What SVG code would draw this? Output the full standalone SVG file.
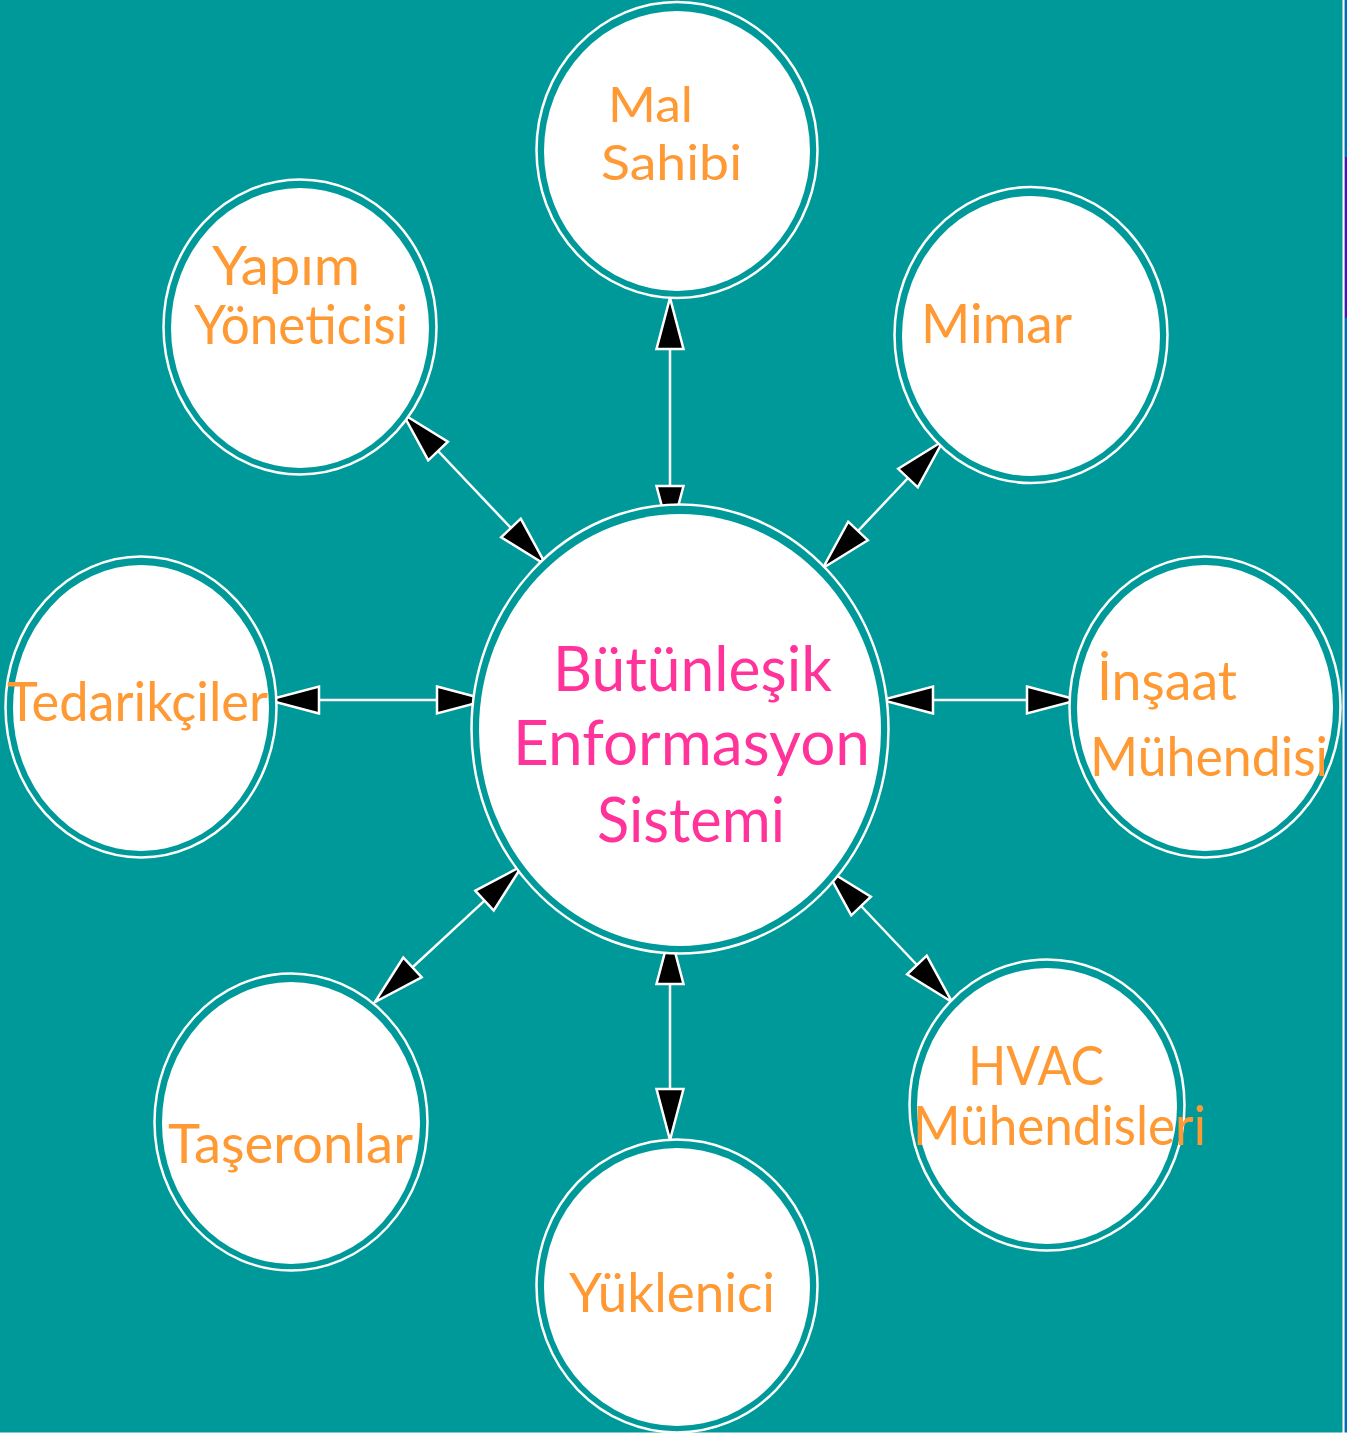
<svg xmlns="http://www.w3.org/2000/svg" width="1347" height="1435" viewBox="0 0 1347 1435">
<style>
.ring{fill:#009999;stroke:#ffffff;stroke-width:2.5}
.fill{fill:#ffffff}
.lbl{font-family:Lato,"Open Sans",sans-serif;font-size:54px;fill:#FF9933}
.sm{font-size:48px}
.ctr{font-family:Lato,"Open Sans",sans-serif;font-size:62px;fill:#FF3399}
.con{stroke:#ffffff;stroke-width:2.5;fill:none;marker-start:url(#ah);marker-end:url(#ah)}
</style>
<defs>
<marker id="ah" viewBox="0 0 54 30" refX="52" refY="15" markerWidth="54" markerHeight="30" markerUnits="userSpaceOnUse" orient="auto-start-reverse" overflow="visible">
<path d="M1,1.5 L52,15 L1,28.5 Z" fill="#000000" stroke="#ffffff" stroke-width="2.5" stroke-linejoin="miter"/>
</marker>
</defs>
<rect x="0" y="0" width="1347" height="1435" fill="#009999"/>
<rect x="1342.5" y="0" width="2" height="1435" fill="#ffffff"/>
<rect x="1345" y="0" width="2" height="1435" fill="#0066cc"/>
<rect x="1345" y="157" width="2" height="161" fill="#6600cc"/>
<rect x="0" y="1432.5" width="1347" height="2.5" fill="#ffffff"/>

<g id="connectors">
<line class="con" x1="670" y1="298" x2="670" y2="537"/>
<line class="con" x1="403" y1="414" x2="546" y2="565"/>
<line class="con" x1="943" y1="441" x2="823" y2="568"/>
<line class="con" x1="268" y1="700" x2="488" y2="700"/>
<line class="con" x1="882" y1="700" x2="1078" y2="700"/>
<line class="con" x1="522" y1="866" x2="375" y2="1002"/>
<line class="con" x1="670" y1="933" x2="670" y2="1140"/>
<line class="con" x1="826" y1="869" x2="952" y2="1002"/>
</g>

<g id="center">
<ellipse class="ring" cx="680" cy="729" rx="208.5" ry="224.5"/>
<ellipse class="fill" cx="680" cy="730" rx="201" ry="216"/>
<text class="ctr" x="553" y="691" textLength="279" lengthAdjust="spacingAndGlyphs">Bütünleşik</text>
<text class="ctr" x="513" y="765" textLength="357" lengthAdjust="spacingAndGlyphs">Enformasyon</text>
<text class="ctr" x="597" y="842" textLength="188" lengthAdjust="spacingAndGlyphs">Sistemi</text>
</g>

<g id="mal-sahibi">
<ellipse class="ring" cx="677" cy="150" rx="140.5" ry="148"/>
<ellipse class="fill" cx="677" cy="151" rx="133" ry="140"/>
<text class="lbl sm" x="608" y="122" textLength="85" lengthAdjust="spacingAndGlyphs">Mal</text>
<text class="lbl sm" x="601" y="180" textLength="141" lengthAdjust="spacingAndGlyphs">Sahibi</text>
</g>

<g id="mimar">
<ellipse class="ring" cx="1031" cy="335" rx="136.5" ry="148"/>
<ellipse class="fill" cx="1031" cy="336" rx="129" ry="140"/>
<text class="lbl" x="921" y="343" textLength="151" lengthAdjust="spacingAndGlyphs">Mimar</text>
</g>

<g id="yapim-yoneticisi">
<ellipse class="ring" cx="300" cy="327" rx="136.5" ry="147.5"/>
<ellipse class="fill" cx="300" cy="328" rx="129" ry="140"/>
<text class="lbl" x="212" y="285" textLength="148" lengthAdjust="spacingAndGlyphs">Yapım</text>
<text class="lbl" x="194" y="344" textLength="214" lengthAdjust="spacingAndGlyphs">Yöneticisi</text>
</g>

<g id="tedarikciler">
<ellipse class="ring" cx="141" cy="707" rx="135.5" ry="150.5"/>
<ellipse class="fill" cx="141" cy="708" rx="128" ry="143"/>
<text class="lbl" x="7" y="721" textLength="261" lengthAdjust="spacingAndGlyphs">Tedarikçiler</text>
</g>

<g id="insaat-muhendisi">
<ellipse class="ring" cx="1205" cy="707" rx="135.5" ry="150.5"/>
<ellipse class="fill" cx="1205" cy="708" rx="128" ry="143"/>
<text class="lbl" x="1097" y="700" textLength="140" lengthAdjust="spacingAndGlyphs">İnşaat</text>
<text class="lbl" x="1090" y="776" textLength="238" lengthAdjust="spacingAndGlyphs">Mühendisi</text>
</g>

<g id="taseronlar">
<ellipse class="ring" cx="291" cy="1122" rx="136.5" ry="148.5"/>
<ellipse class="fill" cx="291" cy="1123" rx="129" ry="141"/>
<text class="lbl" x="168" y="1163" textLength="245" lengthAdjust="spacingAndGlyphs">Taşeronlar</text>
</g>

<g id="yuklenici">
<ellipse class="ring" cx="677" cy="1286" rx="140.5" ry="146.5"/>
<ellipse class="fill" cx="677" cy="1287" rx="133" ry="139"/>
<text class="lbl" x="569" y="1312" textLength="206" lengthAdjust="spacingAndGlyphs">Yüklenici</text>
</g>

<g id="hvac-muhendisleri">
<ellipse class="ring" cx="1047" cy="1105" rx="137.5" ry="145.5"/>
<ellipse class="fill" cx="1047" cy="1106" rx="130" ry="138"/>
<text class="lbl" x="968" y="1085" textLength="136" lengthAdjust="spacingAndGlyphs">HVAC</text>
<text class="lbl" x="913" y="1145" textLength="293" lengthAdjust="spacingAndGlyphs">Mühendisleri</text>
</g>
</svg>
